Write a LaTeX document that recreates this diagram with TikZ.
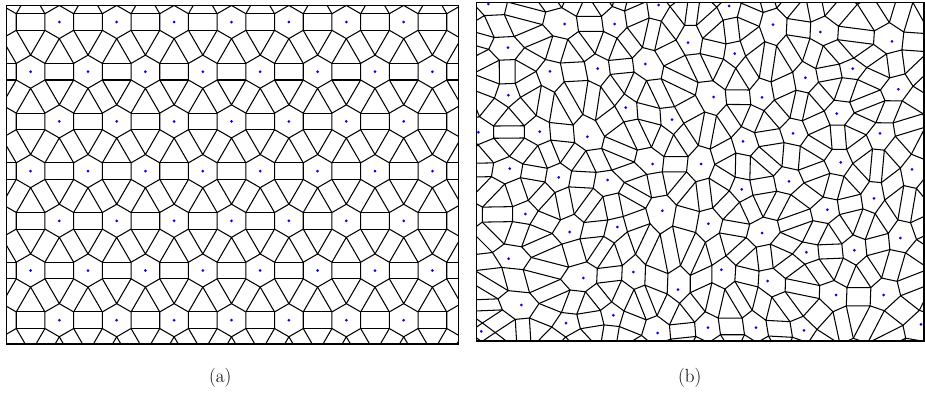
\documentclass[tikz,border=0pt]{standalone}
\usepackage{fontspec}
\tikzset{
  mesh/.style={line width=1.05pt, line join=round},
  frame/.style={line width=1.1pt},
  seed/.style={fill=blue},
  captext/.style={font=\fontsize{19}{23}\selectfont, anchor=base, inner sep=0pt}
}
% seeds of panel (b): the dots, then a ring outside the frame
\def\dotsB{488.3/4, 564.7/24, 614.7/24, 658.7/5, 508/47.7, 688/42.7, 550/71.3,
  597.7/68.7, 645.3/64, 508.3/95.3, 625.7/107.7, 672/119.7, 478.3/132.3,
  539.7/131.7, 587.3/136.7, 509.7/168.7, 652.7/164, 701/164,
  729/6, 773/24.7, 820.3/32, 892/41.3, 734.7/53.7, 852.7/68.7, 805.3/77.7,
  898.3/89.3, 713.7/97, 762/97.3, 836.7/113.7, 793/133.3, 880/133.3, 743/141.3,
  840.7/162.3, 912/169.3,
  558.7/177.3, 607.7/180, 525.3/214, 662.3/210.7, 569.7/232, 617.3/227,
  508.7/258.7, 583.3/278, 633.3/272, 678/289.7, 521.3/305, 613.3/315.3, 566/323,
  481.3/331.3, 657.7/333,
  741.7/189.3, 789/181.3, 874/198.3, 827.3/209.7, 708.3/223.7, 762/233,
  900.3/238, 806.3/252.3, 854.3/250.3, 721.3/269.7, 767.7/281, 836/295,
  883.7/295, 708/327.7, 756/327.7, 804/330.3, 921/324.3}
\def\ringB{440/-25, 527/-28, 585/-22, 630/-35, 697/-24, 758/-30, 810/-20,
  858/-12, 910/-18, 965/-10, 945/45, 940/115, 960/165, 950/215, 948/270,
  965/320, 965/380, 900/372, 850/360, 783/375, 735/370, 685/375, 605/365,
  525/365, 440/360, 448/308, 455/265, 465/215, 445/170, 430/120, 455/75, 445/30}
\newcount\nseed
\gdef\edgelist{}
\newcommand\putseed[2]{%
  \global\advance\nseed by 1
  \expandafter\xdef\csname sx\the\nseed\endcsname{#1}%
  \expandafter\xdef\csname sy\the\nseed\endcsname{#2}%
  \pgfmathsetmacro\tmpv{(#1)/100}\expandafter\xdef\csname px\the\nseed\endcsname{\tmpv}%
  \pgfmathsetmacro\tmpv{(#2)/100}\expandafter\xdef\csname py\the\nseed\endcsname{\tmpv}}
\newcommand\addedge[3]{%
  \ifcsname th-#1-#2\endcsname
    \expandafter\xdef\csname th-#1-#2\endcsname{\csname th-#1-#2\endcsname/#3}%
  \else
    \expandafter\xdef\csname th-#1-#2\endcsname{#3}%
    \ifx\edgelist\empty\xdef\edgelist{#1/#2}\else\xdef\edgelist{\edgelist,#1/#2}\fi
  \fi}
\newcommand\addtri[3]{\addedge{#1}{#2}{#3}\addedge{#1}{#3}{#2}\addedge{#2}{#3}{#1}}
% keep triangle #1 #2 #3 if its circumcircle is empty
\newcommand\tritest[3]{%
  \pgfmathsetmacro\tbx{\csname px#2\endcsname-(\csname px#1\endcsname)}%
  \pgfmathsetmacro\tby{\csname py#2\endcsname-(\csname py#1\endcsname)}%
  \pgfmathsetmacro\tcx{\csname px#3\endcsname-(\csname px#1\endcsname)}%
  \pgfmathsetmacro\tcy{\csname py#3\endcsname-(\csname py#1\endcsname)}%
  \pgfmathsetmacro\tdet{2*((\tbx)*(\tcy)-(\tby)*(\tcx))}%
  \pgfmathsetmacro\tabs{abs(\tdet)}%
  \ifdim\tabs pt>0.002pt
    \pgfmathsetmacro\tbb{(\tbx)*(\tbx)+(\tby)*(\tby)}%
    \pgfmathsetmacro\tcc{(\tcx)*(\tcx)+(\tcy)*(\tcy)}%
    \pgfmathsetmacro\tux{((\tcy)*(\tbb)-(\tby)*(\tcc))/(\tdet)}%
    \pgfmathsetmacro\tuy{((\tbx)*(\tcc)-(\tcx)*(\tbb))/(\tdet)}%
    \pgfmathsetmacro\trr{veclen(\tux,\tuy)-0.0005}%
    \pgfmathsetmacro\tux{\tux+(\csname px#1\endcsname)}%
    \pgfmathsetmacro\tuy{\tuy+(\csname py#1\endcsname)}%
    \gdef\tempty{1}%
    \edef\tlist{\csname nbr#1\endcsname}%
    \foreach \m in \tlist {%
      \pgfmathsetmacro\tee{veclen(\csname px\m\endcsname-(\tux),\csname py\m\endcsname-(\tuy))}%
      \ifdim\tee pt<\trr pt \gdef\tempty{0}\fi}%
    \if1\tempty\addtri{#1}{#2}{#3}\fi
  \fi}
\def\getthirds#1/#2/#3\relax{\def\tx{#1}\def\ty{#2}}
% mesh corner of seed #1 in triangle #1 #2 #3
\newcommand\vtx[4]{%
  \pgfmathsetmacro\vx{(4*(\csname sx#1\endcsname)+\csname sx#2\endcsname+\csname sx#3\endcsname)/6}%
  \pgfmathsetmacro\vy{(4*(\csname sy#1\endcsname)+(\csname sy#2\endcsname)+(\csname sy#3\endcsname))/6}%
  \coordinate (#4) at (\vx,\vy);}
\begin{document}
\begin{tikzpicture}[x=1pt, y=-1pt]
  \useasboundingbox (0,0) rectangle (925,392);

  % (a) regular mesh
  \begin{scope}
    \clip (6.7,5.3) rectangle (458.7,344);
    \foreach \j in {-1,...,7} {
      \foreach \k in {-1,...,8} {
        \pgfmathsetmacro\X{59.3+57.4*\k-28.7*mod(\j+2,2)}
        \pgfmathsetmacro\Y{22+49.7*\j}
        \draw[mesh] (\X-14.35,\Y-8.28) -- (\X,\Y-16.57) -- (\X+14.35,\Y-8.28)
          -- (\X+14.35,\Y+8.28) -- (\X,\Y+16.57) -- (\X-14.35,\Y+8.28) -- cycle;
        \draw[mesh] (\X+14.35,\Y-8.28) -- (\X+43.05,\Y-8.28)
          (\X+14.35,\Y+8.28) -- (\X+43.05,\Y+8.28);
        \draw[mesh] (\X-14.35,\Y+41.42) -- (\X,\Y+16.57) -- (\X+14.35,\Y+41.42);
        \draw[mesh] (\X-14.35,\Y-41.42) -- (\X,\Y-16.57) -- (\X+14.35,\Y-41.42);
      }
    }
  \end{scope}
  \foreach \j in {0,...,6} {
    \foreach \k in {0,...,7} {
      \pgfmathsetmacro\X{59.3+57.4*\k-28.7*mod(\j,2)}
      \pgfmathsetmacro\Y{22+49.7*\j}
      \ifdim\X pt<450pt \fill[seed] (\X,\Y) circle (1.5pt);\fi
    }
  }
  \draw[frame] (6.7,5.3) rectangle (458.7,344);
  \node[captext] (capa) at (220.3,382.5) {(a)};

  % (b) random mesh
  \foreach \x/\y in \dotsB {\putseed{\x}{\y}}
  \foreach \x/\y in \ringB {\putseed{\x}{\y}}
  \edef\nall{\the\nseed}
  \foreach \i in {1,...,\nall} {
    \expandafter\xdef\csname near\i\endcsname{\i}
    \expandafter\xdef\csname nbr\i\endcsname{\i}
  }
  \foreach \i in {1,...,\nall} {
    \foreach \j in {\i,...,\nall} {
      \ifnum\j>\i\relax
        \pgfmathsetmacro\dd{veclen(\csname px\j\endcsname-(\csname px\i\endcsname),\csname py\j\endcsname-(\csname py\i\endcsname))}
        \ifdim\dd pt<1.3pt
          \expandafter\xdef\csname nbr\i\endcsname{\csname nbr\i\endcsname,\j}
          \expandafter\xdef\csname nbr\j\endcsname{\csname nbr\j\endcsname,\i}
          \ifdim\dd pt<1.05pt
            \expandafter\xdef\csname near\i\endcsname{\csname near\i\endcsname,\j}
          \fi
        \fi
      \fi
    }
  }
  \foreach \i in {1,...,\nall} {
    \edef\nearlist{\csname near\i\endcsname}
    \foreach \j in \nearlist {
      \foreach \k in \nearlist {
        \ifnum\j>\i\relax\ifnum\k>\j\relax
          \pgfmathsetmacro\dd{veclen(\csname px\k\endcsname-(\csname px\j\endcsname),\csname py\k\endcsname-(\csname py\j\endcsname))}
          \ifdim\dd pt<1.05pt \tritest{\i}{\j}{\k}\fi
        \fi\fi
      }
    }
  }
  \begin{scope}
    \clip (476.7,2.5) rectangle (924,341);
    \foreach \p/\q in \edgelist {
      \edef\thl{\csname th-\p-\q\endcsname}
      \expandafter\getthirds\thl///\relax
      \vtx{\p}{\q}{\tx}{q1}
      \vtx{\q}{\p}{\tx}{q2}
      \ifx\ty\empty
        \draw[mesh] (q1) -- (q2);
      \else
        \vtx{\q}{\p}{\ty}{q3}
        \vtx{\p}{\q}{\ty}{q4}
        \draw[mesh] (q1) -- (q2) -- (q3) -- (q4) -- cycle;
      \fi
    }
  \end{scope}
  \foreach \x/\y in \dotsB {\fill[seed] (\x,\y) circle (1.5pt);}
  \draw[frame] (476.7,2.5) rectangle (924,341);
  \node[captext] (capb) at (689.7,382.5) {(b)};
\end{tikzpicture}
\end{document}
